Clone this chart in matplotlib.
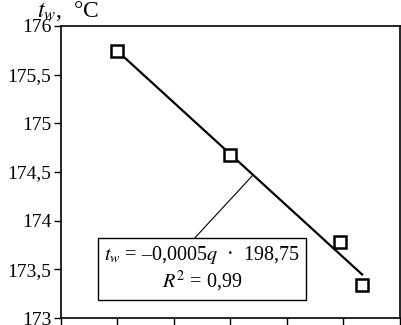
import numpy as np
import matplotlib
matplotlib.use('Agg')
import matplotlib.pyplot as plt

plt.rcParams['font.family'] = ['Liberation Serif', 'DejaVu Serif']
plt.rcParams['mathtext.fontset'] = 'stix'

# data (q in W/m2, t_w in deg C)
q = [46000, 47990, 49940, 50330]
tw = [175.74, 174.67, 173.78, 173.34]
y_ticks = [173, 173.5, 174, 174.5, 175, 175.5, 176]
y_labels = ['173', '173,5', '174', '174,5', '175', '175,5', '176']

fig = plt.figure(figsize=(4.02, 3.25), dpi=100)
ax = fig.add_axes([0.1517, 0.0215, 0.8433, 0.8985])

# trend line
k, b = np.polyfit(q, tw, 1)
qq = np.array([q[0], q[-1]])
ax.plot(qq, k * qq + b, color='black', lw=1.6, zorder=2)
ax.plot(q, tw, ls='none', marker='s', ms=8, mfc='white', mec='black', mew=1.8, zorder=3)

ax.set_xlim(45000, 51000)
ax.set_ylim(173, 176)
ax.set_xticks(np.arange(45000, 51001, 1000))
ax.set_xticklabels([])
ax.set_yticks(y_ticks)
ax.set_yticklabels(y_labels, fontsize=14)
ax.tick_params(direction='out', length=5, width=1, colors='black', pad=2)
for s in ax.spines.values():
    s.set_linewidth(1.2)

fig.text(0.092, 0.948, r'$t_w$,  °C', fontsize=17, ha='left', va='baseline')

# equation box with leader
xl = 48400
ax.annotate('', xy=(xl, k * xl + b), xytext=(0.381, 0.257), textcoords='axes fraction',
            arrowprops=dict(arrowstyle='-', lw=0.8, color='black', shrinkA=0, shrinkB=0))
ax.text(0.416, 0.168, '$t_w$ = –0,0005$q$  ·  198,75\n$R^2$ = 0,99', transform=ax.transAxes,
        fontsize=14.5, ha='center', va='center', linespacing=1.15, multialignment='center',
        bbox=dict(boxstyle='square,pad=0.3', fc='white', ec='black', lw=1))

fig.savefig('out.png', dpi=100)
